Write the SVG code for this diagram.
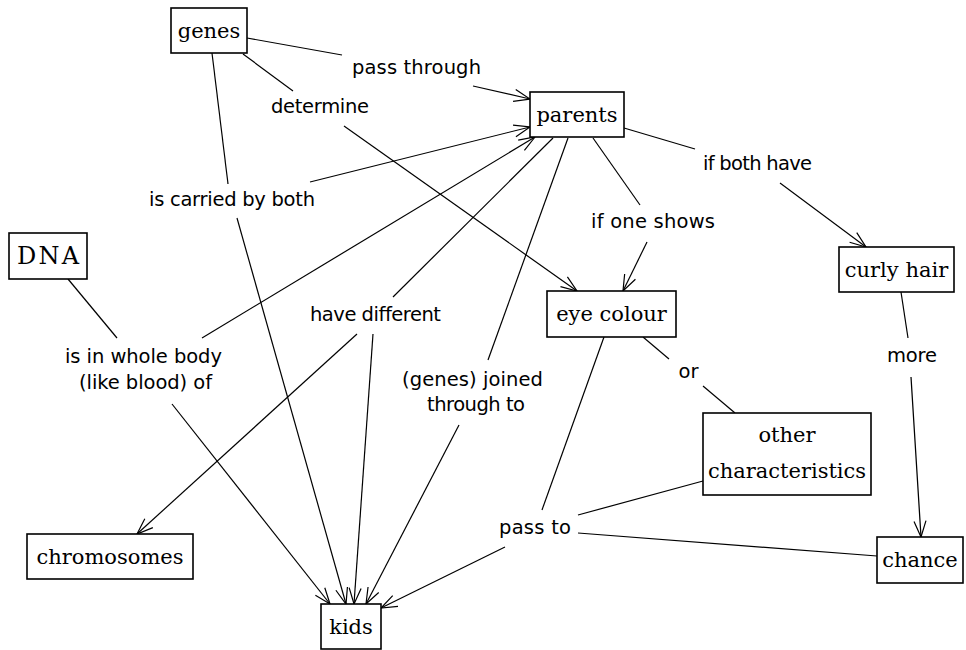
<svg xmlns="http://www.w3.org/2000/svg" width="966" height="650" viewBox="0 0 966 650">
  <style>
    .node rect { fill: #fff; stroke: #000; stroke-width: 1.6; }
    .node text { font-family: "DejaVu Serif", "Liberation Serif", serif; font-size: 21px; fill: #000; text-anchor: middle; }
    .lbl { font-family: "DejaVu Sans", "Liberation Sans", sans-serif; font-size: 19.5px; fill: #000; text-anchor: middle; }
    .link { stroke: #000; stroke-width: 1.2; fill: none; }
    .arrow { marker-end: url(#head); }
  </style>
  <defs>
    <marker id="head" markerUnits="userSpaceOnUse" viewBox="-18 -8 20 16" markerWidth="20" markerHeight="16" refX="0" refY="0" orient="auto">
      <path d="M-16,-6 L0,0 L-16,6" fill="none" stroke="#000" stroke-width="1.2"/>
    </marker>
  </defs>

  <rect width="966" height="650" fill="#fff"/>

  <!-- connectors -->
  <g id="connectors">
    <line class="link" x1="247" y1="38" x2="342" y2="55"/>
    <line class="link arrow" x1="473" y1="86" x2="530" y2="99"/>
    <line class="link" x1="243" y1="54" x2="293" y2="91"/>
    <line class="link arrow" x1="344" y1="126" x2="577" y2="291"/>
    <line class="link" x1="212" y1="53" x2="228" y2="184"/>
    <line class="link arrow" x1="310" y1="182" x2="530" y2="127"/>
    <line class="link arrow" x1="237" y1="218" x2="346" y2="604"/>
    <line class="link" x1="68" y1="279" x2="117" y2="338"/>
    <line class="link arrow" x1="202" y1="338" x2="535" y2="137"/>
    <line class="link arrow" x1="172" y1="404" x2="330" y2="604"/>
    <line class="link" x1="553" y1="138" x2="393" y2="297"/>
    <line class="link arrow" x1="357" y1="334" x2="137" y2="534"/>
    <line class="link arrow" x1="373" y1="334" x2="354" y2="604"/>
    <line class="link" x1="568" y1="138" x2="488" y2="360"/>
    <line class="link arrow" x1="459" y1="425" x2="366" y2="604"/>
    <line class="link" x1="593" y1="138" x2="640" y2="205"/>
    <line class="link arrow" x1="647" y1="242" x2="623" y2="291"/>
    <line class="link" x1="624" y1="128" x2="695" y2="149"/>
    <line class="link arrow" x1="780" y1="183" x2="866" y2="247"/>
    <line class="link" x1="901" y1="292" x2="908" y2="338"/>
    <line class="link arrow" x1="911" y1="377" x2="921" y2="537"/>
    <line class="link" x1="643" y1="337" x2="669" y2="359"/>
    <line class="link" x1="703" y1="386" x2="735" y2="413"/>
    <line class="link" x1="604" y1="337" x2="542" y2="510"/>
    <line class="link" x1="703" y1="481" x2="578" y2="515"/>
    <line class="link" x1="877" y1="556" x2="578" y2="533"/>
    <line class="link arrow" x1="505" y1="547" x2="381" y2="608"/>
  </g>

  <!-- link labels -->
  <g id="labels">
    <text class="lbl" x="416.5" y="74" textLength="129">pass through</text>
    <text class="lbl" x="320" y="113" textLength="98">determine</text>
    <text class="lbl" x="232" y="206" textLength="166">is carried by both</text>
    <text class="lbl" x="757.5" y="170" textLength="109">if both have</text>
    <text class="lbl" x="653" y="228" textLength="124">if one shows</text>
    <text class="lbl" x="375.5" y="321" textLength="131">have different</text>
    <text class="lbl" x="143.5" y="363" textLength="157">is in whole body</text>
    <text class="lbl" x="145.5" y="389" textLength="133">(like blood) of</text>
    <text class="lbl" x="472.5" y="386" textLength="141">(genes) joined</text>
    <text class="lbl" x="476" y="411" textLength="98">through to</text>
    <text class="lbl" x="688.5" y="378">or</text>
    <text class="lbl" x="912" y="362" textLength="50">more</text>
    <text class="lbl" x="535" y="534" textLength="72">pass to</text>
  </g>

  <!-- concept nodes -->
  <g id="genes" class="node"><rect x="171" y="8" width="76" height="45"/><text x="209" y="38">genes</text></g>
  <g id="parents" class="node"><rect x="530" y="92" width="94" height="45"/><text x="577" y="122">parents</text></g>
  <g id="dna" class="node"><rect x="9" y="233" width="78" height="46"/><text x="48" y="264" style="font-size:24px" textLength="62">DNA</text></g>
  <g id="chromosomes" class="node"><rect x="27" y="534" width="166" height="45"/><text x="110" y="564">chromosomes</text></g>
  <g id="kids" class="node"><rect x="321" y="604" width="60" height="45"/><text x="351" y="634">kids</text></g>
  <g id="eye-colour" class="node"><rect x="547" y="291" width="129" height="46"/><text x="611.5" y="321">eye colour</text></g>
  <g id="curly-hair" class="node"><rect x="839" y="247" width="115" height="45"/><text x="896.5" y="277">curly hair</text></g>
  <g id="other-characteristics" class="node"><rect x="703" y="413" width="168" height="82"/><text x="787" y="442">other</text><text x="787" y="478">characteristics</text></g>
  <g id="chance" class="node"><rect x="877" y="537" width="86" height="46"/><text x="920" y="567">chance</text></g>
</svg>
